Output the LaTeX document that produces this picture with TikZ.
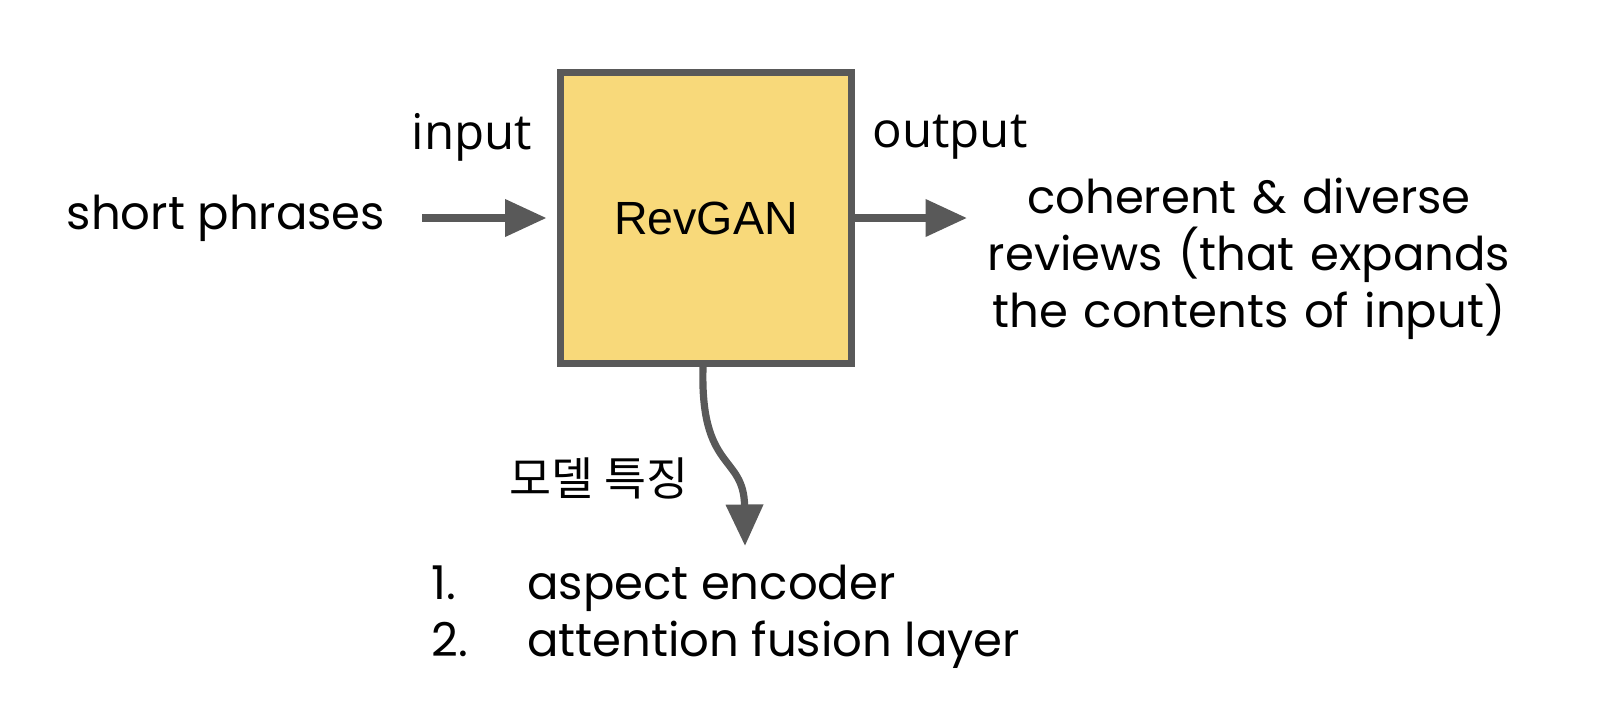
\documentclass[tikz,border=0pt]{standalone}
\usepackage{fontspec}
\usepackage{tikz}
\usetikzlibrary{arrows.meta}
\setmainfont{Poppins}
\newfontfamily\labelfont{Open Sans}
\newfontfamily\boxfont{Liberation Sans}
\newfontfamily\kofont{Noto Sans CJK KR}
\definecolor{edgegray}{HTML}{595959}
\definecolor{boxyellow}{HTML}{F8D97A}
\tikzset{
	flow/.style={draw=edgegray, line width=4.1pt, -{Triangle[length=0.83cm, width=0.72cm]}},
	textnode/.style={font=\fontsize{26.5}{32.3}\selectfont, inner sep=0pt, align=center},
	tagnode/.style={font=\labelfont\fontsize{28}{30}\selectfont, inner sep=0pt}
}

\begin{document}
\begin{tikzpicture}[x=0.02cm, y=-0.02cm]
	\useasboundingbox (0,0) rectangle (1618,704);

	\node[draw=edgegray, fill=boxyellow, line width=4pt, minimum width=5.84cm, minimum height=5.82cm,
	      font=\boxfont\fontsize{26.5}{30}\selectfont] (revgan) at (706,218) {RevGAN};

	\node[textnode] (phrases) at (226,218) {short phrases};
	\node[tagnode] (input) at (472,137) {input};
	\node[tagnode] (output) at (950,137) {output};
	\node[textnode, text width=12cm] (reviews) at (1249,259)
		{coherent \& diverse\\ reviews (that expands\\ the contents of input)};
	\node[textnode, font=\kofont\fontsize{26}{30}\selectfont] (feature) at (599,478) {모델 특징};
	\node[textnode, anchor=west] (items) at (431,617)
		{\begin{tabular}{@{}p{1.92cm}@{}l@{}}
		1. & aspect encoder\\
		2. & attention fusion layer
		\end{tabular}};

	% connectors
	\coordinate (outtip) at (967,218);
	\coordinate (feattip) at (745,546);
	\draw[flow, shorten <=0.74cm, shorten >=0.2cm] (phrases) -- (revgan);
	\draw[flow] (revgan.east) -- (outtip);
	\draw[flow] ([xshift=-0.06cm]revgan.south) .. controls (700,472) and (744,454) .. (feattip);
\end{tikzpicture}
\end{document}
